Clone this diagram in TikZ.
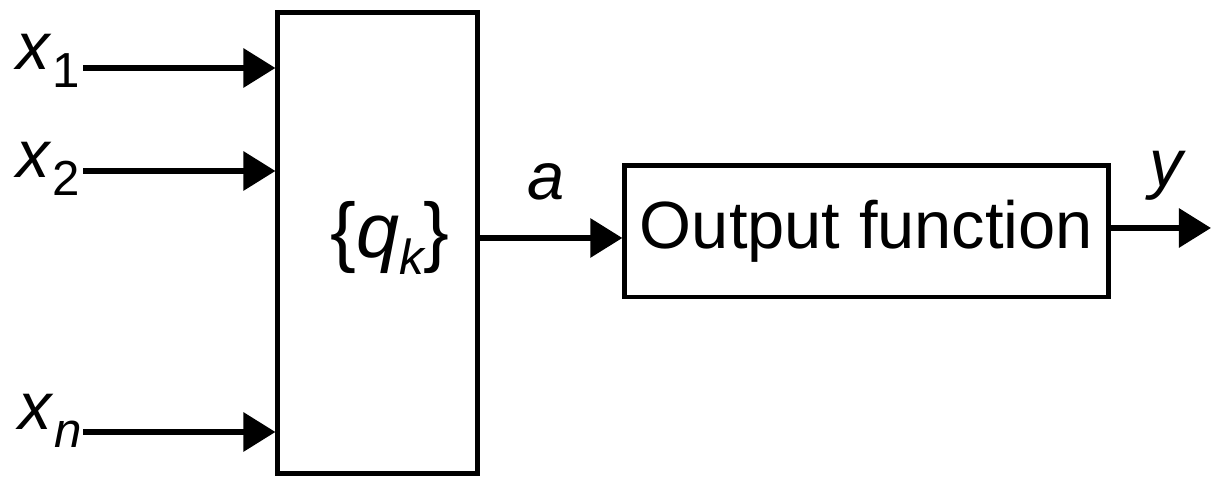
\documentclass[tikz,border=0pt]{standalone}
\usepackage{fontspec}
\setmainfont{Liberation Sans}
\usetikzlibrary{arrows.meta}
\newcommand\mysub[1]{\raisebox{-5pt}{\fontsize{14}{14}\selectfont #1}}
\begin{document}
\begin{tikzpicture}[x=0.01cm,y=-0.01cm,
  box/.style={draw,line width=1.4pt,inner sep=0pt},
  conn/.style={line width=1.7pt,-{Triangle[length=0.32cm,width=0.38cm]}},
  lab/.style={inner sep=0pt,font=\fontsize{19}{22}\selectfont}]
\useasboundingbox (0,0) rectangle (1212,480);
\node[box,minimum width=1.99cm,minimum height=4.6cm] (big) at (377.5,243) {};
\node[lab,font=\fontsize{22}{24}\selectfont] (q) at (390,238) {\{\textit{q}\mysub{\itshape k}\}};
\node[box,lab,minimum width=4.83cm,minimum height=1.31cm] (out) at (866.5,231.5) {Output function};
\node[lab,anchor=base west] (x1) at (16,70) {\textit{x}\mysub{1}};
\node[lab,anchor=base west] (x2) at (16,178) {\textit{x}\mysub{2}};
\node[lab,anchor=base west] (xn) at (18,430) {\textit{x}\mysub{\itshape n}};
\node[lab] (a) at (546,182) {\textit{a}};
\node[lab] (y) at (1168,176) {\textit{y}};
\coordinate (s1) at (83,68);
\coordinate (s2) at (83,171);
\coordinate (sn) at (83,432);
\coordinate (a0) at (0,238);
\coordinate (yend) at (1211,228);
\draw[conn] (s1) -- (s1 -| big.west);
\draw[conn] (s2) -- (s2 -| big.west);
\draw[conn] (sn) -- (sn -| big.west);
\draw[conn] (big.east |- a0) -- (out.west |- a0);
\draw[conn] (out.east |- yend) -- (yend);
\end{tikzpicture}
\end{document}
